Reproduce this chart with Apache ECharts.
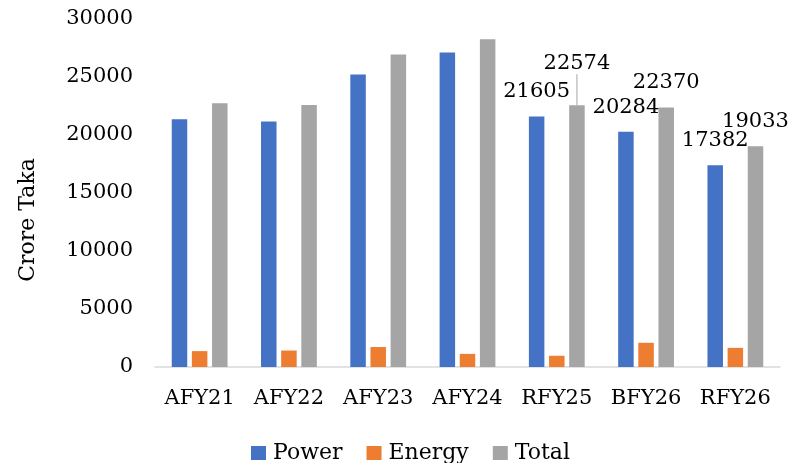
<!DOCTYPE html>
<html>
<head>
<meta charset="utf-8">
<script src="https://cdn.jsdelivr.net/npm/echarts@6/dist/echarts.min.js"></script>
<style>
  html, body { margin: 0; padding: 0; background: #fff; }
  #chart { width: 790px; height: 463px; }
</style>
</head>
<body>
<div id="chart"></div>
<script>
// values
const categories = ['AFY21', 'AFY22', 'AFY23', 'AFY24', 'RFY25', 'BFY26', 'RFY26'];
const powerVals  = [21360, 21170, 25220, 27120, 21605, 20284, 17382];
const energyVals = [1370, 1420, 1720, 1130, 969, 2086, 1651];
const totalVals  = [22730, 22590, 26940, 28250, 22574, 22370, 19033];
const labelled   = [4, 5, 6];   // only these categories carry value labels

const FONT = 'DejaVu Serif';

const chart = echarts.init(document.getElementById('chart'));

function withLabels(vals) {
  return vals.map((v, i) => ({ value: v, label: { show: labelled.includes(i) } }));
}

const totalData = withLabels(totalVals);
// RFY25 total label was pulled up in the original, with a leader line
totalData[4].labelLine = { show: true };

const labelStyle = {
  position: 'top',
  distance: 14,
  color: '#000',
  fontFamily: FONT,
  fontSize: 21
};

chart.setOption({
  animation: false,
  color: ['#4472C4', '#ED7D31', '#A5A5A5'],
  textStyle: { fontFamily: FONT, color: '#000' },
  grid: { left: 155, right: 10, top: 19, bottom: 96 },
  legend: {
    bottom: -6,
    left: 246,
    itemWidth: 15,
    itemHeight: 14,
    itemGap: 24,
    icon: 'rect',
    textStyle: { fontFamily: FONT, fontSize: 22, color: '#000', padding: [0, 0, 0, 2] },
    data: ['Power', 'Energy', 'Total']
  },
  xAxis: {
    type: 'category',
    data: categories,
    axisLine: { lineStyle: { color: '#D9D9D9', width: 1.5 } },
    axisTick: { show: false },
    axisLabel: { color: '#000', fontFamily: FONT, fontSize: 21, margin: 21, interval: 0 }
  },
  yAxis: {
    type: 'value',
    min: 0,
    max: 30000,
    interval: 5000,
    name: 'Crore Taka',
    nameLocation: 'middle',
    nameGap: 116,
    nameRotate: 90,
    nameTextStyle: { fontFamily: FONT, fontSize: 22, color: '#000', padding: [0, 54, 0, 0] },
    axisLine: { show: false },
    axisTick: { show: false },
    splitLine: { show: false },
    axisLabel: {
      color: '#000', fontFamily: FONT, fontSize: 21, margin: 22,
      formatter: v => String(v)
    }
  },
  series: [
    {
      name: 'Power',
      type: 'bar',
      barWidth: 15.5,
      barGap: '30%',
      data: withLabels(powerVals),
      label: labelStyle
    },
    {
      name: 'Energy',
      type: 'bar',
      barWidth: 15.5,
      barGap: '30%',
      data: energyVals
    },
    {
      name: 'Total',
      type: 'bar',
      barWidth: 15.5,
      barGap: '30%',
      data: totalData,
      label: labelStyle,
      labelLine: { show: false, lineStyle: { color: '#A6A6A6', width: 1 } },
      labelLayout: function (p) {
        if (p.dataIndex === 4) return { dy: -17 };
        return {};
      }
    }
  ]
});
</script>
</body>
</html>
